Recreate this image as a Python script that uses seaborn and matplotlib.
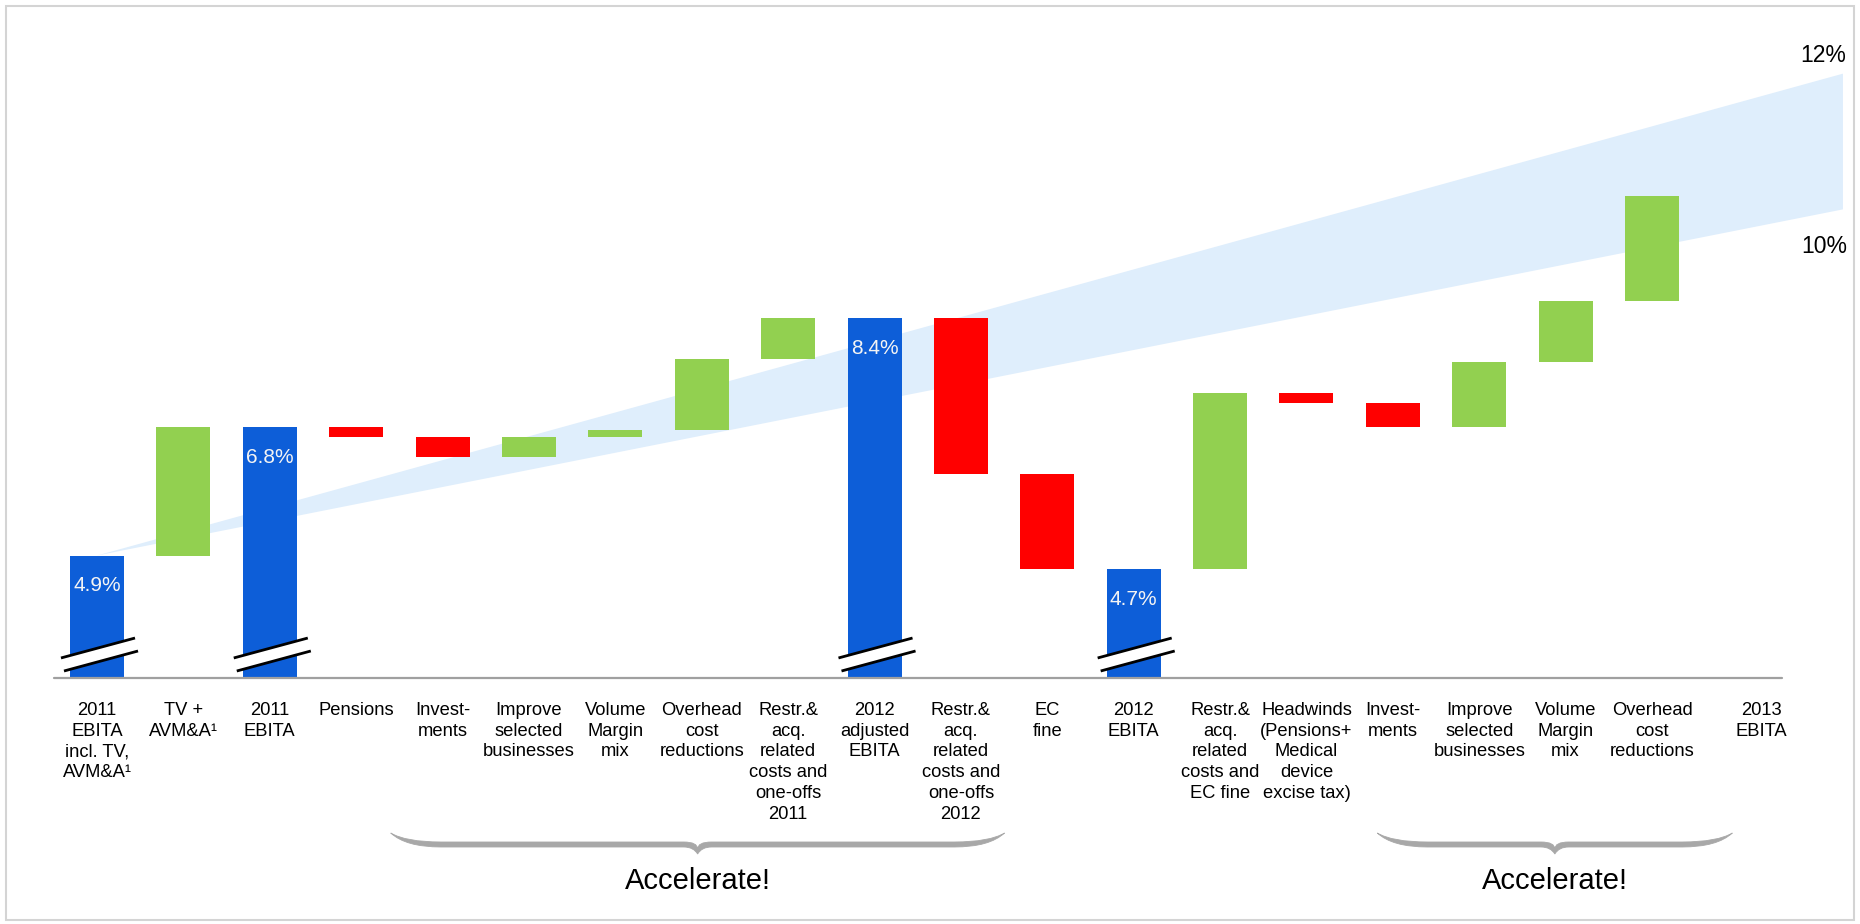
import numpy as np
import pandas as pd
import matplotlib
matplotlib.use("Agg")
import matplotlib.pyplot as plt
import seaborn as sns
from matplotlib.path import Path
from matplotlib.patches import PathPatch, Polygon, Rectangle
from matplotlib.transforms import blended_transform_factory

# ---- data -----------------------------------------------------------------
labels = [
    "2011\nEBITA\nincl. TV,\nAVM&A\u00b9",
    "TV +\nAVM&A\u00b9",
    "2011\nEBITA",
    "Pensions",
    "Invest-\nments",
    "Improve\nselected\nbusinesses",
    "Volume\nMargin\nmix",
    "Overhead\ncost\nreductions",
    "Restr.&\nacq.\nrelated\ncosts and\none-offs\n2011",
    "2012\nadjusted\nEBITA",
    "Restr.&\nacq.\nrelated\ncosts and\none-offs\n2012",
    "EC\nfine",
    "2012\nEBITA",
    "Restr.&\nacq.\nrelated\ncosts and\nEC fine",
    "Headwinds\n(Pensions+\nMedical\ndevice\nexcise tax)",
    "Invest-\nments",
    "Improve\nselected\nbusinesses",
    "Volume\nMargin\nmix",
    "Overhead\ncost\nreductions",
    "2013\nEBITA",
]
# EBITA margin in %: totals are absolute levels, the rest are changes
steps = [4.9, 1.9, 6.8, -0.15, -0.3, 0.3, 0.1, 1.05, 0.6,
         8.4, -2.3, -1.4, 4.7, 2.6, -0.15, -0.35, 0.95, 0.9, 1.55]
is_total = [True, False, True, False, False, False, False, False, False,
            True, False, False, True, False, False, False, False, False, False]
target_range = [10.0, 12.0]
group_title = "Accelerate!"

# ---- style ----------------------------------------------------------------
BLUE = "#0D5ED8"
GREEN = "#92D050"
RED = "#FF0000"
BAND = "#DFEEFC"
BRACE = "#A8A8A8"

W, H = 1860, 924
BASE_PX = 678                 # pixel row of the category axis
PX_PER_PCT = 67.87
Y_REF, Y_REF_PX = 7.8, 358.7
y_bottom = Y_REF - (BASE_PX - Y_REF_PX) / PX_PER_PCT
y_top = Y_REF + Y_REF_PX / PX_PER_PCT
X0_PX, STEP_PX = 97.0, 86.39
BAR_W = 0.625
BAND_END = 20.21

sns.set_theme(style="white")
plt.rcParams["font.family"] = ["Liberation Sans", "DejaVu Sans"]

fig = plt.figure(figsize=(W / 100, H / 100), dpi=100)
fig.patch.set_facecolor("white")
ax = fig.add_axes([0, (H - BASE_PX) / H, 1, BASE_PX / H])
ax.set_facecolor("none")

# ---- waterfall geometry ---------------------------------------------------
bottoms, heights, colors = [], [], []
level = 0.0
for v, tot in zip(steps, is_total):
    if tot:
        bottoms.append(0.0)
        heights.append(v)
        colors.append(BLUE)
        level = v
    else:
        bottoms.append(min(level, level + v))
        heights.append(abs(v))
        colors.append(GREEN if v > 0 else RED)
        level += v

df = pd.DataFrame({"pos": np.arange(len(steps)), "height": heights})
sns.barplot(data=df, x="pos", y="height", native_scale=True, width=BAR_W,
            errorbar=None, bottom=np.array(bottoms), linewidth=0,
            color=BLUE, saturation=1, ax=ax, zorder=3)
for patch, c in zip(ax.patches, colors):
    patch.set_facecolor(c)
    patch.set_edgecolor(c)

# target corridor widening towards 2013
ax.fill([0, BAND_END, BAND_END], [steps[0], target_range[1], target_range[0]],
        color=BAND, lw=0, zorder=1)
ax.annotate(f"{target_range[1]:.0f}%", (BAND_END, target_range[1]),
            xytext=(2.2, 8.6), textcoords="offset points",
            ha="right", va="baseline", fontsize=16.5, color="black")
ax.annotate(f"{target_range[0]:.0f}%", (BAND_END, target_range[0]),
            xytext=(2.9, -31.6), textcoords="offset points",
            ha="right", va="baseline", fontsize=16.5, color="black")

# value labels and axis breaks on the total bars
for i, (v, tot) in enumerate(zip(steps, is_total)):
    if not tot:
        continue
    ax.annotate(f"{v}%", (i, v), xytext=(0, -25.9), textcoords="offset points",
                ha="center", va="baseline", fontsize=15, color="#F4F4F4",
                zorder=6)
    tl = (i - 0.417, y_bottom + 0.295)
    tr = (i + 0.440, y_bottom + 0.589)
    br = (i + 0.475, y_bottom + 0.398)
    bl = (i - 0.382, y_bottom + 0.103)
    ax.add_patch(Polygon([tl, tr, br, bl], closed=True, fc="white", ec="none",
                         zorder=4, clip_on=False))
    ax.plot([tl[0], tr[0]], [tl[1], tr[1]], color="black", lw=2.0,
            solid_capstyle="butt", zorder=5, clip_on=False)
    ax.plot([bl[0], br[0]], [bl[1], br[1]], color="black", lw=2.0,
            solid_capstyle="butt", zorder=5, clip_on=False)

# category axis line
ax.plot([-0.5, 19.5], [y_bottom, y_bottom], color="#A0A0A0", lw=1.6,
        zorder=7, clip_on=False)

ax.set_xlim(-X0_PX / STEP_PX, (W - X0_PX) / STEP_PX)
ax.set_ylim(y_bottom, y_top)
tick_pos = [float(i) for i in range(len(labels))]
tick_pos[-1] = 19.27
ax.set_xticks(tick_pos)
ax.set_xticklabels(labels, fontsize=13.2, linespacing=1.3, color="black")
ax.tick_params(axis="x", length=0, pad=17)
ax.set_yticks([])
ax.set_xlabel("")
ax.set_ylabel("")
for s in ax.spines.values():
    s.set_visible(False)

# curly braces grouping the "Accelerate!" drivers
trans = blended_transform_factory(ax.transData, fig.transFigure)


def fy(px):
    return 1 - px / H


def draw_brace(xa, xb, r=0.58, r2=0.16, ye=833, yt=842, yb=847,
               cusp=849, tip=854):
    xm = (xa + xb) / 2
    pts = [
        (xa, ye), (xa + r * 0.3, yt), (xa + r, yt),
        (xm - r2, yt),
        (xm, yt), (xm, cusp),
        (xm, yt), (xm + r2, yt),
        (xb - r, yt),
        (xb - r * 0.3, yt), (xb, ye),
        (xb - r * 0.3, yb), (xb - r, yb),
        (xm + r2, yb),
        (xm + r2 * 0.3, yb), (xm, tip),
        (xm - r2 * 0.3, yb), (xm - r2, yb),
        (xa + r, yb),
        (xa + r * 0.3, yb), (xa, ye),
    ]
    codes = [Path.MOVETO, Path.CURVE3, Path.CURVE3, Path.LINETO,
             Path.CURVE3, Path.CURVE3, Path.CURVE3, Path.CURVE3,
             Path.LINETO, Path.CURVE3, Path.CURVE3,
             Path.CURVE3, Path.CURVE3, Path.LINETO,
             Path.CURVE3, Path.CURVE3, Path.CURVE3, Path.CURVE3,
             Path.LINETO, Path.CURVE3, Path.CURVE3]
    verts = [(x, fy(y)) for x, y in pts]
    ax.add_patch(PathPatch(Path(verts, codes), transform=trans, fc=BRACE,
                           ec=BRACE, lw=0.6, clip_on=False))
    ax.text(xm, fy(889), group_title, transform=trans, ha="center",
            va="baseline", fontsize=21, color="black")


draw_brace(3.40, 10.505)
draw_brace(14.82, 18.93)

# light frame around the slide area
fig.patches.append(Rectangle((6 / W, (H - 920) / H), (1854 - 6) / W,
                             (920 - 6) / H, transform=fig.transFigure,
                             fill=False, ec="#D4D4D4", lw=1.5))

fig.savefig("out.png", dpi=100, facecolor="white")
